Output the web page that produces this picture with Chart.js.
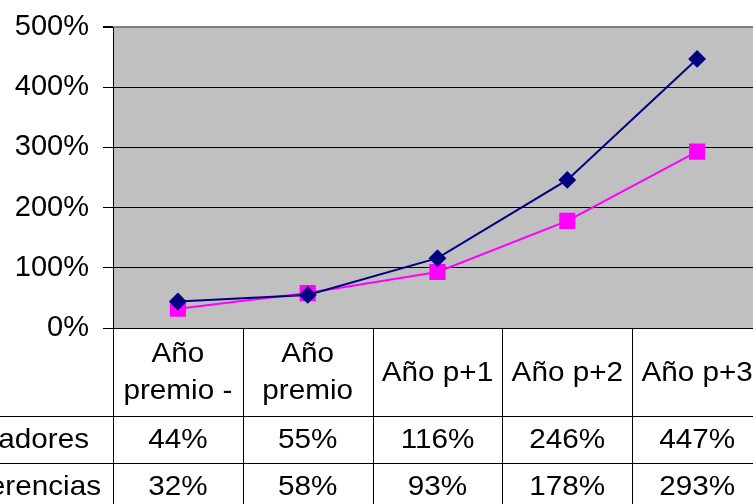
<!DOCTYPE html>
<html>
<head>
<meta charset="utf-8">
<script src="https://cdn.jsdelivr.net/npm/chart.js@4/dist/chart.umd.min.js"></script>
<style>
  html, body { margin: 0; padding: 0; background: #fff; overflow: hidden; }
  #wrap { position: relative; width: 775px; height: 504px; }
</style>
</head>
<body>
<div id="wrap"><canvas id="chart" width="775" height="504"></canvas></div>
<script>
// data (percent)
const categories = [['Año', 'premio -'], ['Año', 'premio'], ['Año p+1'], ['Año p+2'], ['Año p+3']];
const seriesNames = ['Ganadores', 'Diferencias'];
const ganadores = [44, 55, 116, 246, 447];
const diferencias = [32, 58, 93, 178, 293];
const yTicks = [0, 100, 200, 300, 400, 500];

const FONT = '28px "Liberation Sans", Arial, sans-serif';
const STRETCH = 1.06; // the original text is a bit wider than Arial

// text drawn slightly stretched sideways
function wideText(ctx, txt, x, y) {
    ctx.save();
    ctx.translate(x, y);
    ctx.scale(STRETCH, 1);
    ctx.fillText(txt, 0, 0);
    ctx.restore();
}

// draws the data table under the plot, Excel style
const dataTable = {
    id: 'dataTable',
    afterDraw(chart) {
        const ctx = chart.ctx;
        const area = chart.chartArea;
        const x = chart.scales.x;
        const n = categories.length;
        const colW = (area.right - area.left) / n;
        const headerBottom = area.bottom + 88;
        const row1Bottom = headerBottom + 47;
        const row2Bottom = row1Bottom + 47;

        ctx.save();
        ctx.strokeStyle = '#000';
        ctx.lineWidth = 1;
        ctx.beginPath();
        // plot bottom border
        ctx.moveTo(area.left, area.bottom + 0.5);
        ctx.lineTo(area.right, area.bottom + 0.5);
        // row lines
        [headerBottom, row1Bottom, row2Bottom].forEach(yy => {
            ctx.moveTo(0, yy + 0.5);
            ctx.lineTo(area.right, yy + 0.5);
        });
        // column lines
        for (let i = 0; i <= n; i++) {
            const xx = Math.round(area.left + i * colW) + 0.5;
            ctx.moveTo(xx, area.bottom);
            ctx.lineTo(xx, chart.height);
        }
        ctx.stroke();

        ctx.fillStyle = '#000';
        ctx.font = FONT;
        ctx.textAlign = 'center';
        ctx.textBaseline = 'middle';
        const headMid = (area.bottom + headerBottom) / 2;
        categories.forEach((lines, i) => {
            const cx = x.getPixelForValue(i);
            if (lines.length === 2) {
                wideText(ctx, lines[0], cx, headMid - 18);
                wideText(ctx, lines[1], cx, headMid + 19);
            } else {
                wideText(ctx, lines[0], cx, headMid + 1);
            }
            wideText(ctx, ganadores[i] + '%', cx, (headerBottom + row1Bottom) / 2 + 1);
            wideText(ctx, diferencias[i] + '%', cx, (row1Bottom + row2Bottom) / 2 + 1);
        });

        // row labels (cut by the left edge like the original)
        ctx.textAlign = 'right';
        wideText(ctx, seriesNames[0], 89, (headerBottom + row1Bottom) / 2 + 1);
        wideText(ctx, seriesNames[1], 101, (row1Bottom + row2Bottom) / 2 + 1);
        ctx.restore();
    }
};

const plotBg = {
    id: 'plotBg',
    beforeDraw(chart) {
        const a = chart.chartArea;
        chart.ctx.save();
        chart.ctx.fillStyle = '#c0c0c0';
        chart.ctx.fillRect(a.left, a.top, a.right - a.left, a.bottom - a.top);
        chart.ctx.restore();
    }
};

new Chart(document.getElementById('chart'), {
    type: 'line',
    data: {
        labels: categories.map(c => c.join(' ')),
        datasets: [{
            label: seriesNames[0],
            data: ganadores,
            borderColor: '#000080',
            backgroundColor: '#000080',
            borderWidth: 2,
            pointStyle: 'rectRot',
            pointRadius: 7.5,
            pointHoverRadius: 7.5,
            tension: 0
        }, {
            label: seriesNames[1],
            data: diferencias,
            borderColor: '#ff00ff',
            backgroundColor: '#ff00ff',
            borderWidth: 2,
            pointStyle: 'rect',
            pointRadius: 10,
            pointHoverRadius: 10,
            tension: 0
        }]
    },
    options: {
        responsive: false,
        animation: false,
        layout: { padding: { top: 27, right: 13, bottom: 176, left: 0 } },
        plugins: { legend: { display: false }, tooltip: { enabled: false } },
        scales: {
            x: {
                type: 'category',
                offset: true,
                display: false
            },
            y: {
                min: 0,
                max: 500,
                afterBuildTicks: s => { s.ticks = yTicks.map(v => ({ value: v })); },
                afterFit: s => { s.width = 113; s.paddingTop = 0; s.paddingBottom = 0; },
                border: { color: '#000', width: 1 },
                grid: {
                    color: c => c.tick.value === 500 ? '#808080' : '#000',
                    lineWidth: c => c.tick.value === 500 ? 2 : 1,
                    tickLength: 10,
                    tickColor: '#000',
                    drawOnChartArea: true
                },
                ticks: {
                    color: '#000',
                    font: { family: '"Liberation Sans", Arial, sans-serif', size: 29 },
                    padding: 14,
                    callback: v => v + '%'
                }
            }
        }
    },
    plugins: [plotBg, dataTable]
});
</script>
</body>
</html>
